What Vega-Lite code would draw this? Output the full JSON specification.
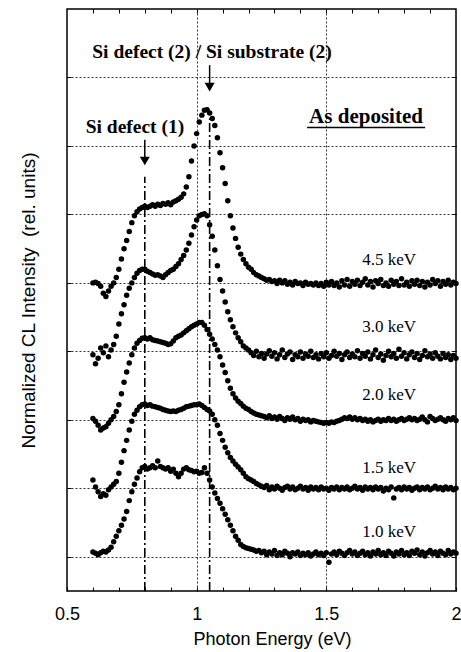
{
  "$schema": "https://vega.github.io/schema/vega-lite/v6.json",
  "width": 389,
  "height": 582,
  "autosize": {"type": "none"},
  "padding": {"left": 67, "top": 9, "right": 5, "bottom": 61},
  "background": "white",
  "config": {
    "view": {"stroke": "black", "strokeWidth": 1.5},
    "axis": {"domain": false, "labelFont": "Liberation Sans", "titleFont": "Liberation Sans", "labelColor": "black", "titleColor": "black", "tickColor": "black", "titleFontWeight": "normal"}
  },
  "datasets": {
    "spectra": [
      {"x":0.60,"a":0.07,"b":1.12,"c":2.02,"d":2.95,"e":4.00},
      {"x":0.61,"a":0.05,"b":1.02,"c":1.98,"d":2.82,"e":4.01},
      {"x":0.62,"a":0.03,"b":0.95,"c":1.92,"d":2.90,"e":3.99},
      {"x":0.63,"a":0.06,"b":0.88,"c":1.85,"d":3.05,"e":3.95},
      {"x":0.64,"a":0.08,"b":0.92,"c":1.88,"d":2.98,"e":3.85},
      {"x":0.65,"a":0.07,"b":0.90,"c":1.90,"d":3.08,"e":3.80},
      {"x":0.66,"a":0.10,"b":0.98,"c":1.95,"d":2.92,"e":3.88},
      {"x":0.67,"a":0.14,"b":1.02,"c":2.00,"d":3.02,"e":3.95},
      {"x":0.68,"a":0.22,"b":1.06,"c":2.05,"d":3.10,"e":4.00},
      {"x":0.69,"a":0.30,"b":1.10,"c":2.12,"d":3.22,"e":4.08},
      {"x":0.70,"a":0.38,"b":1.22,"c":2.22,"d":3.40,"e":4.20},
      {"x":0.71,"a":0.46,"b":1.38,"c":2.38,"d":3.55,"e":4.35},
      {"x":0.72,"a":0.55,"b":1.55,"c":2.55,"d":3.68,"e":4.50},
      {"x":0.73,"a":0.66,"b":1.70,"c":2.70,"d":3.82,"e":4.62},
      {"x":0.74,"a":0.82,"b":1.85,"c":2.83,"d":3.92,"e":4.75},
      {"x":0.75,"a":0.95,"b":1.98,"c":2.95,"d":4.00,"e":4.88},
      {"x":0.76,"a":1.06,"b":2.08,"c":3.05,"d":4.08,"e":4.98},
      {"x":0.77,"a":1.15,"b":2.14,"c":3.12,"d":4.14,"e":5.04},
      {"x":0.78,"a":1.24,"b":2.19,"c":3.16,"d":4.18,"e":5.08},
      {"x":0.79,"a":1.30,"b":2.22,"c":3.19,"d":4.20,"e":5.10},
      {"x":0.80,"a":1.32,"b":2.23,"c":3.20,"d":4.20,"e":5.12},
      {"x":0.81,"a":1.28,"b":2.21,"c":3.18,"d":4.17,"e":5.10},
      {"x":0.82,"a":1.30,"b":2.22,"c":3.20,"d":4.15,"e":5.12},
      {"x":0.83,"a":1.33,"b":2.20,"c":3.17,"d":4.13,"e":5.14},
      {"x":0.84,"a":1.30,"b":2.19,"c":3.16,"d":4.11,"e":5.12},
      {"x":0.85,"a":1.40,"b":2.18,"c":3.15,"d":4.12,"e":5.15},
      {"x":0.86,"a":1.32,"b":2.17,"c":3.14,"d":4.10,"e":5.13},
      {"x":0.87,"a":1.30,"b":2.15,"c":3.13,"d":4.08,"e":5.16},
      {"x":0.88,"a":1.28,"b":2.14,"c":3.12,"d":4.12,"e":5.15},
      {"x":0.89,"a":1.30,"b":2.13,"c":3.10,"d":4.15,"e":5.17},
      {"x":0.90,"a":1.25,"b":2.12,"c":3.11,"d":4.18,"e":5.14},
      {"x":0.91,"a":1.28,"b":2.13,"c":3.15,"d":4.20,"e":5.18},
      {"x":0.92,"a":1.22,"b":2.12,"c":3.20,"d":4.24,"e":5.20},
      {"x":0.93,"a":1.17,"b":2.14,"c":3.22,"d":4.28,"e":5.22},
      {"x":0.94,"a":1.22,"b":2.15,"c":3.24,"d":4.34,"e":5.25},
      {"x":0.95,"a":1.28,"b":2.17,"c":3.27,"d":4.40,"e":5.30},
      {"x":0.96,"a":1.30,"b":2.19,"c":3.30,"d":4.48,"e":5.40},
      {"x":0.97,"a":1.27,"b":2.20,"c":3.33,"d":4.58,"e":5.55},
      {"x":0.98,"a":1.26,"b":2.21,"c":3.36,"d":4.70,"e":5.78},
      {"x":0.99,"a":1.24,"b":2.22,"c":3.38,"d":4.82,"e":6.00},
      {"x":1.00,"a":1.25,"b":2.22,"c":3.40,"d":4.92,"e":6.18},
      {"x":1.01,"a":1.22,"b":2.23,"c":3.42,"d":4.98,"e":6.35},
      {"x":1.02,"a":1.23,"b":2.21,"c":3.42,"d":5.00,"e":6.45},
      {"x":1.03,"a":1.30,"b":2.18,"c":3.38,"d":5.01,"e":6.52},
      {"x":1.04,"a":1.22,"b":2.15,"c":3.32,"d":4.98,"e":6.53},
      {"x":1.05,"a":1.12,"b":2.13,"c":3.25,"d":4.85,"e":6.48},
      {"x":1.06,"a":1.02,"b":2.08,"c":3.18,"d":4.68,"e":6.40},
      {"x":1.07,"a":0.93,"b":2.00,"c":3.10,"d":4.48,"e":6.30},
      {"x":1.08,"a":0.85,"b":1.92,"c":3.02,"d":4.25,"e":6.12},
      {"x":1.09,"a":0.78,"b":1.80,"c":2.92,"d":4.05,"e":5.90},
      {"x":1.10,"a":0.70,"b":1.70,"c":2.80,"d":3.88,"e":5.68},
      {"x":1.11,"a":0.62,"b":1.60,"c":2.69,"d":3.72,"e":5.45},
      {"x":1.12,"a":0.54,"b":1.52,"c":2.57,"d":3.58,"e":5.20},
      {"x":1.13,"a":0.46,"b":1.45,"c":2.46,"d":3.46,"e":4.98},
      {"x":1.14,"a":0.38,"b":1.40,"c":2.38,"d":3.36,"e":4.80},
      {"x":1.15,"a":0.30,"b":1.35,"c":2.32,"d":3.27,"e":4.65},
      {"x":1.16,"a":0.24,"b":1.31,"c":2.27,"d":3.20,"e":4.52},
      {"x":1.17,"a":0.18,"b":1.27,"c":2.24,"d":3.14,"e":4.42},
      {"x":1.18,"a":0.15,"b":1.22,"c":2.20,"d":3.08,"e":4.34},
      {"x":1.19,"a":0.13,"b":1.17,"c":2.17,"d":3.05,"e":4.28},
      {"x":1.20,"a":0.12,"b":1.14,"c":2.15,"d":3.02,"e":4.23},
      {"x":1.21,"a":0.11,"b":1.12,"c":2.12,"d":2.98,"e":4.20},
      {"x":1.22,"a":0.10,"b":1.10,"c":2.10,"d":2.94,"e":4.15},
      {"x":1.23,"a":0.08,"b":1.07,"c":2.08,"d":3.00,"e":4.12},
      {"x":1.24,"a":0.09,"b":1.05,"c":2.07,"d":2.92,"e":4.10},
      {"x":1.25,"a":0.06,"b":1.03,"c":2.06,"d":2.97,"e":4.08},
      {"x":1.26,"a":0.08,"b":1.01,"c":2.05,"d":2.90,"e":4.06},
      {"x":1.27,"a":0.03,"b":1.04,"c":2.03,"d":2.96,"e":4.04},
      {"x":1.28,"a":0.07,"b":0.98,"c":2.06,"d":3.01,"e":4.05},
      {"x":1.29,"a":0.04,"b":1.02,"c":2.02,"d":2.93,"e":4.02},
      {"x":1.30,"a":0.09,"b":0.99,"c":2.04,"d":2.98,"e":4.03},
      {"x":1.31,"a":0.02,"b":1.03,"c":2.01,"d":2.89,"e":3.99},
      {"x":1.32,"a":0.06,"b":1.00,"c":2.05,"d":2.95,"e":4.04},
      {"x":1.33,"a":0.03,"b":0.97,"c":2.02,"d":3.02,"e":4.00},
      {"x":1.34,"a":0.08,"b":1.01,"c":1.99,"d":2.91,"e":4.03},
      {"x":1.35,"a":0.05,"b":1.03,"c":2.03,"d":2.96,"e":3.98},
      {"x":1.36,"a":0.00,"b":0.99,"c":2.01,"d":2.99,"e":4.01},
      {"x":1.37,"a":0.06,"b":1.02,"c":2.04,"d":2.88,"e":3.97},
      {"x":1.38,"a":0.04,"b":0.98,"c":2.00,"d":2.95,"e":4.02},
      {"x":1.39,"a":0.07,"b":1.00,"c":2.02,"d":2.92,"e":3.99},
      {"x":1.40,"a":0.02,"b":1.03,"c":1.98,"d":2.99,"e":4.00},
      {"x":1.41,"a":0.05,"b":0.99,"c":2.01,"d":2.90,"e":3.96},
      {"x":1.42,"a":0.03,"b":1.01,"c":1.99,"d":2.96,"e":4.01},
      {"x":1.43,"a":0.06,"b":0.97,"c":2.00,"d":2.93,"e":3.98},
      {"x":1.44,"a":0.01,"b":1.02,"c":1.97,"d":3.00,"e":3.99},
      {"x":1.45,"a":0.04,"b":0.99,"c":1.99,"d":2.91,"e":3.97},
      {"x":1.46,"a":0.07,"b":1.01,"c":1.98,"d":2.95,"e":4.00},
      {"x":1.47,"a":0.03,"b":0.98,"c":1.97,"d":2.89,"e":3.96},
      {"x":1.48,"a":0.05,"b":1.02,"c":1.96,"d":2.97,"e":3.99},
      {"x":1.49,"a":0.02,"b":0.99,"c":1.95,"d":2.92,"e":3.95},
      {"x":1.50,"a":0.06,"b":1.00,"c":1.96,"d":2.98,"e":4.01},
      {"x":1.51,"a":-0.08,"b":0.97,"c":1.95,"d":2.90,"e":3.97},
      {"x":1.52,"a":0.04,"b":1.01,"c":1.97,"d":2.94,"e":4.02},
      {"x":1.53,"a":0.07,"b":0.99,"c":1.96,"d":3.00,"e":3.96},
      {"x":1.54,"a":0.03,"b":1.02,"c":1.98,"d":2.93,"e":4.00},
      {"x":1.55,"a":0.08,"b":0.98,"c":1.99,"d":2.97,"e":3.94},
      {"x":1.56,"a":0.05,"b":1.01,"c":2.01,"d":2.88,"e":4.03},
      {"x":1.57,"a":0.02,"b":0.99,"c":2.03,"d":2.95,"e":3.97},
      {"x":1.58,"a":0.06,"b":1.02,"c":2.02,"d":2.99,"e":4.05},
      {"x":1.59,"a":0.09,"b":0.98,"c":2.04,"d":2.91,"e":3.95},
      {"x":1.60,"a":0.04,"b":1.00,"c":2.01,"d":2.96,"e":4.02},
      {"x":1.61,"a":0.07,"b":1.03,"c":2.03,"d":2.92,"e":3.98},
      {"x":1.62,"a":0.02,"b":0.99,"c":2.00,"d":3.01,"e":4.04},
      {"x":1.63,"a":0.05,"b":1.01,"c":2.02,"d":2.90,"e":3.96},
      {"x":1.64,"a":0.08,"b":0.97,"c":1.99,"d":2.97,"e":4.01},
      {"x":1.65,"a":0.03,"b":1.02,"c":2.01,"d":2.93,"e":4.06},
      {"x":1.66,"a":0.06,"b":0.99,"c":1.98,"d":2.99,"e":3.97},
      {"x":1.67,"a":0.01,"b":1.01,"c":2.00,"d":2.89,"e":4.02},
      {"x":1.68,"a":0.07,"b":0.98,"c":1.97,"d":2.95,"e":3.94},
      {"x":1.69,"a":0.04,"b":1.02,"c":1.99,"d":3.02,"e":4.03},
      {"x":1.70,"a":0.09,"b":0.99,"c":2.01,"d":2.91,"e":3.99},
      {"x":1.71,"a":0.03,"b":1.01,"c":1.98,"d":2.96,"e":4.05},
      {"x":1.72,"a":0.06,"b":0.96,"c":2.00,"d":2.87,"e":3.96},
      {"x":1.73,"a":0.02,"b":1.00,"c":1.99,"d":2.94,"e":4.00},
      {"x":1.74,"a":0.08,"b":0.98,"c":2.02,"d":3.00,"e":3.95},
      {"x":1.75,"a":0.05,"b":1.02,"c":1.99,"d":2.92,"e":4.04},
      {"x":1.76,"a":0.01,"b":0.86,"c":2.01,"d":2.97,"e":3.98},
      {"x":1.77,"a":0.07,"b":0.99,"c":1.98,"d":2.90,"e":4.02},
      {"x":1.78,"a":0.04,"b":1.01,"c":2.00,"d":3.03,"e":3.96},
      {"x":1.79,"a":0.09,"b":0.98,"c":2.02,"d":2.93,"e":4.06},
      {"x":1.80,"a":0.03,"b":1.02,"c":1.99,"d":2.98,"e":3.97},
      {"x":1.81,"a":0.06,"b":0.99,"c":2.01,"d":2.89,"e":4.01},
      {"x":1.82,"a":0.02,"b":1.01,"c":2.03,"d":2.95,"e":3.95},
      {"x":1.83,"a":0.08,"b":0.97,"c":2.00,"d":2.99,"e":4.03},
      {"x":1.84,"a":0.05,"b":1.00,"c":2.02,"d":2.91,"e":3.98},
      {"x":1.85,"a":0.10,"b":1.02,"c":1.99,"d":2.97,"e":4.04},
      {"x":1.86,"a":0.03,"b":0.98,"c":2.01,"d":2.88,"e":3.96},
      {"x":1.87,"a":0.07,"b":1.01,"c":2.04,"d":2.94,"e":4.02},
      {"x":1.88,"a":0.01,"b":0.99,"c":2.00,"d":3.01,"e":3.94},
      {"x":1.89,"a":0.06,"b":1.02,"c":1.97,"d":2.92,"e":4.01},
      {"x":1.90,"a":0.09,"b":0.98,"c":2.05,"d":2.96,"e":3.97},
      {"x":1.91,"a":0.04,"b":1.00,"c":2.02,"d":2.90,"e":4.05},
      {"x":1.92,"a":0.07,"b":1.03,"c":1.99,"d":2.98,"e":3.99},
      {"x":1.93,"a":0.02,"b":0.99,"c":2.01,"d":2.93,"e":4.03},
      {"x":1.94,"a":0.08,"b":1.01,"c":2.03,"d":2.89,"e":3.95},
      {"x":1.95,"a":0.05,"b":0.98,"c":2.00,"d":2.97,"e":4.02},
      {"x":1.96,"a":0.03,"b":1.02,"c":1.98,"d":2.91,"e":3.98},
      {"x":1.97,"a":0.09,"b":0.99,"c":2.02,"d":2.95,"e":4.04},
      {"x":1.98,"a":0.04,"b":1.01,"c":2.00,"d":2.88,"e":3.97},
      {"x":1.99,"a":0.07,"b":0.98,"c":2.03,"d":2.94,"e":4.01},
      {"x":2.00,"a":0.05,"b":1.00,"c":1.99,"d":2.90,"e":3.99}
    ]
  },
  "layer": [
    {
      "data": {"name": "spectra"},
      "transform": [{"fold": ["a", "b", "c", "d", "e"], "as": ["k", "v"]}],
      "mark": {"type": "circle", "size": 30, "color": "black", "opacity": 1},
      "encoding": {
        "x": {
          "field": "x", "type": "quantitative",
          "scale": {"domain": [0.5, 2], "nice": false, "zero": false},
          "axis": {
            "orient": "bottom",
            "title": "Photon Energy (eV)",
            "titleFontSize": 18,
            "titleX": 205, "titleY": 48, "titleBaseline": "middle",
            "values": [0.5, 0.6, 0.7, 0.8, 0.9, 1, 1.1, 1.2, 1.3, 1.4, 1.5, 1.6, 1.7, 1.8, 1.9, 2],
            "labelExpr": "datum.value == 0.5 ? '0.5' : datum.value == 1 ? '1' : datum.value == 1.5 ? '1.5' : datum.value == 2 ? '2' : ''",
            "labelFontSize": 18,
            "labelPadding": 18,
            "labelFlush": false,
            "labelOverlap": false,
            "tickSize": -4,
            "tickWidth": 1,
            "grid": true,
            "gridColor": "black",
            "gridDash": [2, 2],
            "gridWidth": 0.8,
            "gridOpacity": {"condition": {"test": "datum.value == 1 || datum.value == 1.5", "value": 1}, "value": 0}
          }
        },
        "y": {
          "field": "v", "type": "quantitative",
          "scale": {"domain": [-0.5, 8], "nice": false, "zero": false},
          "axis": {
            "orient": "left",
            "title": "Normalized CL Intensity \u00a0(rel. units)",
            "titleFontSize": 19,
            "titleX": -39, "titleBaseline": "middle",
            "values": [0, 1, 2, 3, 4, 5, 6, 7],
            "labels": false,
            "tickSize": -4,
            "grid": true,
            "gridColor": "black",
            "gridDash": [2, 2],
            "gridWidth": 0.8
          }
        }
      }
    },
    {
      "data": {"values": [{"x": 0.8, "y": -0.5, "y2": 5.55}, {"x": 1.05, "y": -0.5, "y2": 6.4}]},
      "mark": {"type": "rule", "color": "black", "strokeWidth": 1.6, "strokeDash": [9, 3, 2, 3]},
      "encoding": {
        "x": {"field": "x", "type": "quantitative", "axis": {"orient": "top", "title": null, "labels": false, "values": [0.6, 0.7, 0.8, 0.9, 1, 1.1, 1.2, 1.3, 1.4, 1.5, 1.6, 1.7, 1.8, 1.9], "tickSize": -4, "grid": false}},
        "y": {"field": "y", "type": "quantitative", "axis": {"orient": "right", "title": null, "labels": false, "values": [0, 1, 2, 3, 4, 5, 6, 7], "tickSize": -4, "grid": false}},
        "y2": {"field": "y2"}
      }
    },
    {
      "data": {"values": [{"x": 0.8, "y": 6.09, "y2": 5.8}, {"x": 1.05, "y": 7.18, "y2": 6.88}]},
      "mark": {"type": "rule", "color": "black", "strokeWidth": 1.5},
      "encoding": {
        "x": {"field": "x", "type": "quantitative", "axis": null},
        "y": {"field": "y", "type": "quantitative", "axis": null},
        "y2": {"field": "y2"}
      }
    },
    {
      "data": {"values": [{"x": 0.8, "y": 5.78}, {"x": 1.05, "y": 6.86}]},
      "mark": {"type": "point", "shape": "triangle-down", "filled": true, "color": "black", "opacity": 1, "size": 100},
      "encoding": {
        "x": {"field": "x", "type": "quantitative", "axis": null},
        "y": {"field": "y", "type": "quantitative", "axis": null}
      }
    },
    {
      "data": {"values": [
        {"x": 1.059, "y": 7.37, "t": "Si defect (2) / Si substrate (2)"},
        {"x": 0.762, "y": 6.28, "t": "Si defect (1)"}
      ]},
      "mark": {"type": "text", "font": "Liberation Serif", "fontWeight": "bold", "fontSize": 19.5, "color": "black", "align": "center", "baseline": "middle"},
      "encoding": {
        "x": {"field": "x", "type": "quantitative", "axis": null},
        "y": {"field": "y", "type": "quantitative", "axis": null},
        "text": {"field": "t"}
      }
    },
    {
      "data": {"values": [
        {"x": 1.653, "y": 6.42, "t": "As deposited"}
      ]},
      "mark": {"type": "text", "font": "Liberation Serif", "fontWeight": "bold", "fontSize": 21, "color": "black", "align": "center", "baseline": "middle"},
      "encoding": {
        "x": {"field": "x", "type": "quantitative", "axis": null},
        "y": {"field": "y", "type": "quantitative", "axis": null},
        "text": {"field": "t"}
      }
    },
    {
      "data": {"values": [
        {"x": 1.742, "y": 4.33, "t": "4.5 keV"},
        {"x": 1.742, "y": 3.36, "t": "3.0 keV"},
        {"x": 1.742, "y": 2.36, "t": "2.0 keV"},
        {"x": 1.742, "y": 1.30, "t": "1.5 keV"},
        {"x": 1.742, "y": 0.36, "t": "1.0 keV"}
      ]},
      "mark": {"type": "text", "font": "Liberation Serif", "fontSize": 17, "color": "black", "align": "center", "baseline": "middle"},
      "encoding": {
        "x": {"field": "x", "type": "quantitative", "axis": null},
        "y": {"field": "y", "type": "quantitative", "axis": null},
        "text": {"field": "t"}
      }
    },
    {
      "data": {"values": [{"x": 1.426, "x2": 1.881, "y": 6.27}]},
      "mark": {"type": "rule", "color": "black", "strokeWidth": 1.6},
      "encoding": {
        "x": {"field": "x", "type": "quantitative", "axis": null},
        "x2": {"field": "x2"},
        "y": {"field": "y", "type": "quantitative", "axis": null}
      }
    }
  ],
  "resolve": {"axis": {"x": "independent", "y": "independent"}}
}
